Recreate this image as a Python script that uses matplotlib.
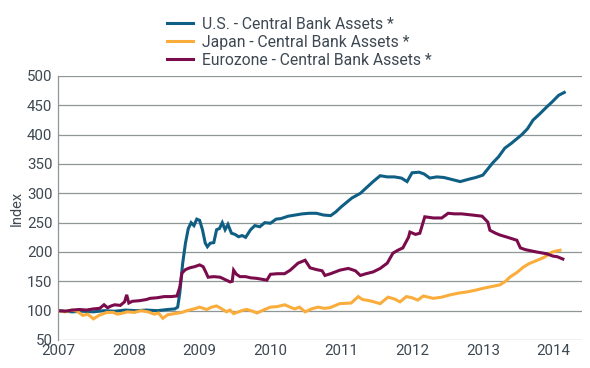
import matplotlib
matplotlib.use("Agg")
import matplotlib.pyplot as plt

# ---- data (decimal years, index values) ----
us_x = [2007.0, 2007.1, 2007.2, 2007.35, 2007.5, 2007.65, 2007.8, 2007.95, 2008.1, 2008.25,
        2008.4, 2008.55, 2008.65, 2008.69, 2008.72, 2008.76, 2008.8, 2008.84, 2008.88, 2008.92,
        2008.96, 2009.0, 2009.04, 2009.08, 2009.11, 2009.15, 2009.2, 2009.24, 2009.28, 2009.32,
        2009.36, 2009.4, 2009.45, 2009.5, 2009.55, 2009.6, 2009.65, 2009.72, 2009.78, 2009.85,
        2009.92, 2010.0, 2010.08, 2010.15, 2010.25, 2010.35, 2010.45, 2010.55, 2010.65, 2010.75,
        2010.85, 2010.92, 2011.0, 2011.15, 2011.27, 2011.45, 2011.55, 2011.65, 2011.75, 2011.85,
        2011.93, 2012.0, 2012.1, 2012.17, 2012.25, 2012.35, 2012.45, 2012.55, 2012.68, 2012.8,
        2012.9, 2013.0, 2013.14, 2013.22, 2013.31, 2013.4, 2013.55, 2013.63, 2013.71, 2013.8,
        2013.9, 2013.98, 2014.07, 2014.15]
us_y = [100, 99, 98, 99, 98, 100, 99, 101, 100, 101,
        100, 102, 103, 106, 130, 180, 215, 240, 250, 245,
        256, 254, 238, 215, 209, 215, 216, 238, 240, 250,
        238, 247, 232, 230, 226, 228, 225, 238, 245, 243,
        250, 249, 256, 257, 261, 263, 265, 266, 266, 263,
        262, 268, 277, 292, 300, 320, 330, 328, 328, 326,
        320, 335, 336, 333, 326, 328, 327, 324, 320, 324,
        327, 331, 352, 362, 377, 385, 400, 410, 425, 435,
        447, 456, 467, 472]

jp_x = [2007.0, 2007.1, 2007.2, 2007.27, 2007.35, 2007.42, 2007.5, 2007.58, 2007.69, 2007.78,
        2007.84, 2007.92, 2007.98, 2008.08, 2008.17, 2008.27, 2008.36, 2008.42, 2008.48, 2008.55,
        2008.65, 2008.75, 2008.82, 2008.92, 2009.0, 2009.05, 2009.1, 2009.17, 2009.24, 2009.3,
        2009.38, 2009.43, 2009.48, 2009.55, 2009.62, 2009.67, 2009.75, 2009.81, 2009.9, 2010.0,
        2010.1, 2010.2, 2010.28, 2010.34, 2010.41, 2010.49, 2010.58, 2010.67, 2010.76, 2010.84,
        2010.98, 2011.14, 2011.24, 2011.3, 2011.4, 2011.55, 2011.66, 2011.75, 2011.83, 2011.92,
        2012.0, 2012.08, 2012.16, 2012.3, 2012.42, 2012.54, 2012.66, 2012.78, 2012.9, 2013.0,
        2013.12, 2013.24, 2013.32, 2013.38, 2013.48, 2013.57, 2013.65, 2013.75, 2013.85, 2013.92,
        2013.98, 2014.05, 2014.09]
jp_y = [100, 98, 101, 99, 92, 94, 86, 92, 97, 97,
        94, 96, 98, 97, 100, 98, 94, 96, 87, 93,
        95, 97, 100, 103, 106, 104, 102, 106, 108, 104,
        98, 101, 95, 98, 101, 102, 99, 96, 101, 106,
        107, 110, 106, 103, 106, 98, 103, 106, 104, 105,
        112, 113, 124, 119, 117, 112, 123, 120, 115, 124,
        122, 118, 125, 121, 123, 127, 130, 132, 135, 138,
        141, 144, 150, 157, 165, 174, 180, 185, 190, 195,
        200, 202, 203]

ez_x = [2007.0, 2007.1, 2007.2, 2007.3, 2007.4, 2007.5, 2007.59, 2007.65, 2007.7, 2007.75,
        2007.8, 2007.88, 2007.94, 2007.97, 2008.0, 2008.05, 2008.15, 2008.25, 2008.3, 2008.4,
        2008.5, 2008.6, 2008.68, 2008.72, 2008.75, 2008.8, 2008.86, 2008.93, 2009.0, 2009.05,
        2009.09, 2009.12, 2009.2, 2009.29, 2009.36, 2009.43, 2009.46, 2009.48, 2009.52, 2009.57,
        2009.65, 2009.72, 2009.81, 2009.95, 2010.0, 2010.1, 2010.2, 2010.28, 2010.39, 2010.49,
        2010.56, 2010.65, 2010.73, 2010.77, 2010.85, 2010.98, 2011.1, 2011.2, 2011.27, 2011.35,
        2011.45, 2011.55, 2011.65, 2011.73, 2011.8, 2011.87, 2011.95, 2011.97, 2012.05, 2012.11,
        2012.18, 2012.3, 2012.42, 2012.51, 2012.6, 2012.7, 2012.85, 2012.99, 2013.07, 2013.1,
        2013.18, 2013.24, 2013.35, 2013.48, 2013.53, 2013.6, 2013.76, 2013.9, 2013.99, 2014.05,
        2014.13]
ez_y = [100, 99, 101, 102, 101, 103, 104, 110, 105, 108,
        110, 109, 115, 127, 113, 116, 117, 119, 121, 122,
        124, 124, 125, 140, 164, 170, 173, 175, 178, 175,
        165, 157, 158, 157, 153, 149, 150, 169, 162, 158,
        158, 156, 155, 152, 162, 163, 163, 169, 181, 186,
        173, 170, 168, 160, 163, 169, 172, 168, 160, 163,
        166, 172, 181, 198, 203, 207, 225, 234, 230, 232,
        260, 258, 258, 266, 265, 265, 263, 261, 251, 237,
        232, 229, 225, 220, 207, 204, 200, 197, 193, 192,
        188]

series_labels = ["U.S. - Central Bank Assets *",
                 "Japan - Central Bank Assets *",
                 "Eurozone - Central Bank Assets *"]
year_ticks = [2007, 2008, 2009, 2010, 2011, 2012, 2013, 2014]
y_ticks = [50, 100, 150, 200, 250, 300, 350, 400, 450, 500]

# ---- styling ----
plt.rcParams['font.family'] = ['Roboto', 'DejaVu Sans']
text_color = '#3d4852'
grid_color = '#8e9696'
colors = ['#0f5f84', '#fbad3c', '#7b0c4c']

fig = plt.figure(figsize=(5.9, 3.68), dpi=100)
ax = fig.add_axes([0.0983, 0.0761, 0.8881, 0.7174])

for x, y, c, lab in zip([us_x, jp_x, ez_x], [us_y, jp_y, ez_y], colors, series_labels):
    ax.plot(x, y, color=c, lw=2.2, label=lab, solid_joinstyle='miter')

ax.set_xlim(2007.0, 2014.40)
ax.set_ylim(50, 500)
ax.set_yticks(y_ticks)
ax.set_xticks(year_ticks)
ax.set_xticklabels([str(t) for t in year_ticks])
ax.yaxis.grid(True, color=grid_color, lw=0.9)
ax.set_axisbelow(True)
for s in ['top', 'right', 'bottom']:
    ax.spines[s].set_visible(False)
ax.spines['left'].set_color(grid_color)
ax.spines['left'].set_linewidth(0.9)
ax.tick_params(axis='both', length=0, colors=text_color, labelsize=10.8)
ax.tick_params(axis='x', pad=3)
ax.tick_params(axis='y', pad=4)
ax.set_ylabel('Index', color=text_color, fontsize=10.5, labelpad=2)

leg = fig.legend(loc='upper left', bbox_to_anchor=(0.272, 0.972), frameon=False,
                 fontsize=11.3, handlelength=1.7, handletextpad=0.55,
                 labelspacing=0.2, borderaxespad=0)
for t in leg.get_texts():
    t.set_color(text_color)

fig.savefig('out.png', dpi=100)
